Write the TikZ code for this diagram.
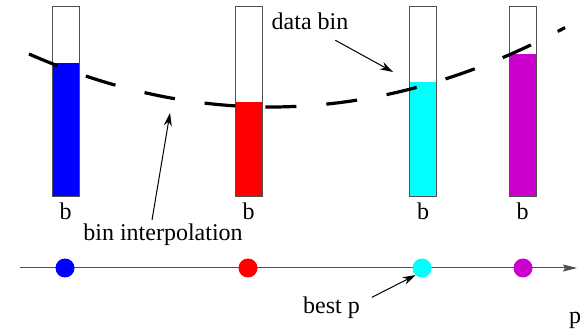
\documentclass[tikz,border=0pt]{standalone}
\usepackage{fontspec}
\setmainfont{Liberation Serif}
\usepackage{tikz}
\usetikzlibrary{arrows.meta,positioning,calc}
\definecolor{binblue}{RGB}{0,0,255}
\definecolor{binred}{RGB}{255,0,0}
\definecolor{bincyan}{RGB}{0,255,255}
\definecolor{binmagenta}{RGB}{204,0,204}
\definecolor{edge}{RGB}{80,80,80}

\begin{document}
\begin{tikzpicture}[x=0.5pt,y=-0.5pt,every node/.style={font=\fontsize{12}{14}\selectfont,inner sep=0pt,outer sep=0pt},bin/.style={draw=edge,line width=0.5pt,minimum width=13.5pt,minimum height=95pt},bindot/.style={circle,minimum size=9.5pt},pointer/.style={-{Stealth[length=6.5pt,width=4pt]},line width=0.5pt},chisq/.style={line width=1.6pt,dash pattern=on 15.5pt off 15pt}]
\useasboundingbox (0,0) rectangle (584,331);
% bins with their filling
\fill[binblue] (52,197) rectangle (79,63);
\fill[binred] (235,197) rectangle (262,102);
\fill[bincyan] (409.5,197) rectangle (436.5,82);
\fill[binmagenta] (509,197) rectangle (536,54);
\node[bin] (blue bin) at (65.5,102) {};
\node[bin] (red bin) at (248.5,102) {};
\node[bin] (cyan bin) at (423,102) {};
\node[bin] (magenta bin) at (522.5,102) {};
\node[below=3pt of blue bin] (blue label) {b};
\node[below=3pt of red bin] (red label) {b};
\node[below=3pt of cyan bin] (cyan label) {b};
\node[below=3pt of magenta bin] (magenta label) {b};
% interpolated curve
\draw[chisq] (29,54) .. controls (207.7,132.5) and (386.3,123.9) .. (565,27.6);
% parameter axis
\coordinate (axis start) at (20,268);
\coordinate (axis end) at (577,268);
\draw[edge,line width=0.5pt,-{Stealth[length=7pt,width=3.5pt,inset=1pt]}] (axis start)--(axis end);
\node[bindot,fill=binblue] (blue dot) at (65,268) {};
\node[bindot,fill=binred] (red dot) at (248,268) {};
\node[bindot,fill=bincyan] (cyan dot) at (422,268) {};
\node[bindot,fill=binmagenta] (magenta dot) at (523,268) {};
\node[anchor=base] (p label) at (575,324) {p};
% annotations
\node[anchor=base] (data label) at (310,30) {data bin};
\coordinate (data tip) at (393,72);
\draw[pointer] ([xshift=-6.5pt,yshift=-5pt]data label.south east)--(data tip);
\node[anchor=base] (interp label) at (163,241) {bin interpolation};
\coordinate (interp tip) at (170,113);
\draw[pointer] ([xshift=-5.5pt,yshift=2.2pt]interp label.north)--(interp tip);
\node[anchor=base] (best label) at (331.5,314) {best p};
\draw[pointer] ([xshift=6pt]best label.north east)--(cyan dot.228);
\end{tikzpicture}
\end{document}
